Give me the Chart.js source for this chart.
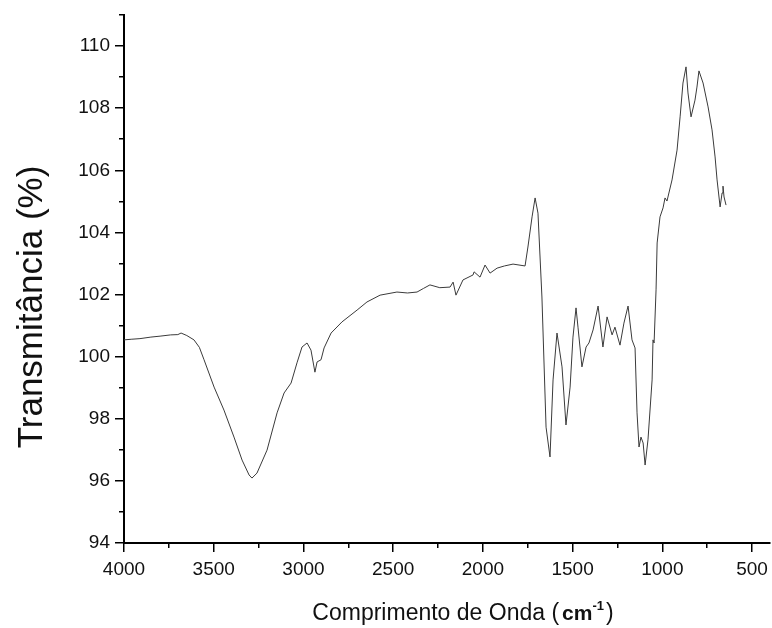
<!DOCTYPE html>
<html>
<head>
<meta charset="utf-8">
<script src="https://cdn.jsdelivr.net/npm/chart.js@4.4.1/dist/chart.umd.min.js"></script>
<style>
  html, body { margin: 0; padding: 0; background: #fff; }
  #wrap { width: 772px; height: 628px; }
</style>
</head>
<body>
<div id="wrap"><canvas id="c" width="772" height="628"></canvas></div>
<script>
// FTIR spectrum: wavenumber (cm-1) and transmittance (%)
const wavenumbers = [
  4000, 3960, 3911, 3850, 3799, 3740, 3700, 3682, 3650, 3610, 3580, 3554, 3498, 3443, 3387, 3342, 3303, 3287,
  3259, 3203, 3147, 3108, 3069, 3036, 3008, 2980, 2958, 2936, 2924, 2902, 2885, 2846,
  2785, 2701, 2646, 2573, 2479, 2420, 2367, 2330, 2295, 2240, 2183, 2166, 2150, 2111,
  2055, 2049, 2016, 1988, 1960, 1921, 1880, 1832, 1765, 1749, 1726, 1709, 1693, 1671,
  1648, 1626, 1609, 1587, 1559, 1537, 1514, 1498, 1481, 1470, 1448, 1425, 1409, 1386,
  1358, 1331, 1308, 1280, 1264, 1236, 1214, 1191, 1169, 1152, 1141, 1130, 1119, 1107,
  1096, 1080, 1057, 1052, 1046, 1035, 1029, 1013, 996, 985, 974, 946, 918, 901,
  885, 868, 857, 840, 818, 807, 796, 773, 745, 723, 706, 695, 678, 667,
  662, 656, 645
];
const transmittance = [
  100.54, 100.56, 100.58, 100.63, 100.66, 100.70, 100.71, 100.76, 100.68, 100.54, 100.30, 99.90, 99.02, 98.28, 97.41, 96.67, 96.19, 96.09,
  96.25, 96.99, 98.19, 98.83, 99.15, 99.80, 100.31, 100.44, 100.21, 99.50, 99.83, 99.90, 100.28, 100.76,
  101.12, 101.50, 101.76, 101.98, 102.08, 102.05, 102.08, 102.20, 102.31, 102.22, 102.24, 102.40, 101.98, 102.47,
  102.63, 102.73, 102.56, 102.95, 102.69, 102.85, 102.92, 102.98, 102.92, 103.53, 104.50, 105.11, 104.62, 101.92,
  97.73, 96.77, 99.25, 100.76, 99.67, 97.80, 99.02, 100.63, 101.57, 100.95, 99.67, 100.31, 100.44, 100.86,
  101.63, 100.31, 101.28, 100.70, 100.95, 100.37, 101.08, 101.63, 100.54, 100.28, 98.19, 97.09, 97.41, 97.22,
  96.51, 97.32, 99.25, 100.54, 100.44, 102.15, 103.66, 104.50, 104.79, 105.11, 105.01, 105.69, 106.65, 107.72,
  108.81, 109.33, 108.49, 107.72, 108.26, 108.68, 109.20, 108.81, 108.04, 107.30, 106.43, 105.69, 104.82, 105.27,
  105.49, 105.14, 104.88
];

// Axis ranges and tick positions
const xMin = 400, xMax = 4000;
const yMin = 94, yMax = 111;
const xMajorTicks = [4000, 3500, 3000, 2500, 2000, 1500, 1000, 500];
const xMinorTicks = [3750, 3250, 2750, 2250, 1750, 1250, 750];
const yMajorTicks = [94, 96, 98, 100, 102, 104, 106, 108, 110];
const yMinorTicks = [95, 97, 99, 101, 103, 105, 107, 109, 111];

const yTitle = 'Transmitância (%)';
const xTitleMain = 'Comprimento de Onda (';
const xTitleUnit = 'cm';
const xTitleExp = '-1';
const xTitleClose = ')';

const FONT = '"Liberation Sans", Arial, Helvetica, sans-serif';
const INK = '#111';

const points = wavenumbers.map((w, i) => ({ x: w, y: transmittance[i] }));

const axisTitles = {
  id: 'axisTitles',
  afterDraw(chart) {
    const ctx = chart.ctx;
    ctx.save();
    ctx.fillStyle = INK;
    // vertical title
    ctx.save();
    ctx.translate(42, 307);
    ctx.rotate(-Math.PI / 2);
    ctx.font = '35px ' + FONT;
    ctx.textAlign = 'center';
    ctx.textBaseline = 'alphabetic';
    ctx.fillText(yTitle, 0, 0);
    ctx.restore();

    // horizontal title with superscript unit
    const fMain = '23px ' + FONT;
    const fUnit = 'bold 21px ' + FONT;
    const fExp = 'bold 13px ' + FONT;
    ctx.textBaseline = 'alphabetic';
    ctx.textAlign = 'left';
    ctx.font = fMain; const wMain = ctx.measureText(xTitleMain).width;
    const wClose = ctx.measureText(xTitleClose).width;
    ctx.font = fUnit; const wUnit = ctx.measureText(xTitleUnit).width;
    ctx.font = fExp; const wExp = ctx.measureText(xTitleExp).width;
    const gap = 3;
    const total = wMain + gap + wUnit + wExp + 2 + wClose;
    let x = 463 - total / 2;
    const base = 620;
    ctx.font = fMain; ctx.fillText(xTitleMain, x, base); x += wMain + gap;
    ctx.font = fUnit; ctx.fillText(xTitleUnit, x, base); x += wUnit;
    ctx.font = fExp; ctx.fillText(xTitleExp, x, base - 10); x += wExp + 2;
    ctx.font = fMain; ctx.fillText(xTitleClose, x, base);
    ctx.restore();
  }
};

const useTicks = (values) => (scale) => {
  scale.ticks = values.map(v => ({ value: v }));
};
const plain = (v) => String(v);

new Chart(document.getElementById('c'), {
  type: 'line',
  data: {
    datasets: [{
      data: points,
      borderColor: '#3a3a3a',
      borderWidth: 1,
      pointRadius: 0,
      tension: 0,
      fill: false
    }]
  },
  options: {
    responsive: false,
    animation: false,
    layout: { padding: { top: 15, right: 2, left: 0, bottom: 0 } },
    plugins: { legend: { display: false }, tooltip: { enabled: false } },
    scales: {
      x: {
        type: 'linear', position: 'bottom', weight: 1,
        min: xMin, max: xMax, reverse: true,
        border: { display: true, color: '#000', width: 2 },
        grid: { drawOnChartArea: false, drawTicks: true, tickLength: 9, tickColor: '#000', lineWidth: 1.5 },
        ticks: { autoSkip: false, maxRotation: 0, minRotation: 0, padding: 6, callback: plain,
                 color: INK, font: { family: FONT, size: 19 } },
        afterBuildTicks: useTicks(xMajorTicks),
        afterFit: (s) => { s.height = 85; s.paddingLeft = 0; s.paddingRight = 0; }
      },
      x2: {
        type: 'linear', position: 'bottom', weight: 0,
        min: xMin, max: xMax, reverse: true,
        border: { display: false },
        grid: { drawOnChartArea: false, drawTicks: true, tickLength: 5, tickColor: '#000', lineWidth: 1.5 },
        ticks: { display: false, autoSkip: false },
        afterBuildTicks: useTicks(xMinorTicks),
        afterFit: (s) => { s.height = 0; s.paddingLeft = 0; s.paddingRight = 0; }
      },
      y: {
        type: 'linear', position: 'left', weight: 1,
        min: yMin, max: yMax,
        border: { display: true, color: '#000', width: 2 },
        grid: { drawOnChartArea: false, drawTicks: true, tickLength: 9, tickColor: '#000', lineWidth: 1.5 },
        ticks: { autoSkip: false, padding: 5, callback: plain,
                 color: INK, font: { family: FONT, size: 19 } },
        afterBuildTicks: useTicks(yMajorTicks),
        afterFit: (s) => { s.width = 124; s.paddingTop = 0; s.paddingBottom = 0; }
      },
      y2: {
        type: 'linear', position: 'left', weight: 0,
        min: yMin, max: yMax,
        border: { display: false },
        grid: { drawOnChartArea: false, drawTicks: true, tickLength: 5, tickColor: '#000', lineWidth: 1.5 },
        ticks: { display: false, autoSkip: false },
        afterBuildTicks: useTicks(yMinorTicks),
        afterFit: (s) => { s.width = 0; s.paddingTop = 0; s.paddingBottom = 0; }
      }
    }
  },
  plugins: [axisTitles]
});
</script>
</body>
</html>
